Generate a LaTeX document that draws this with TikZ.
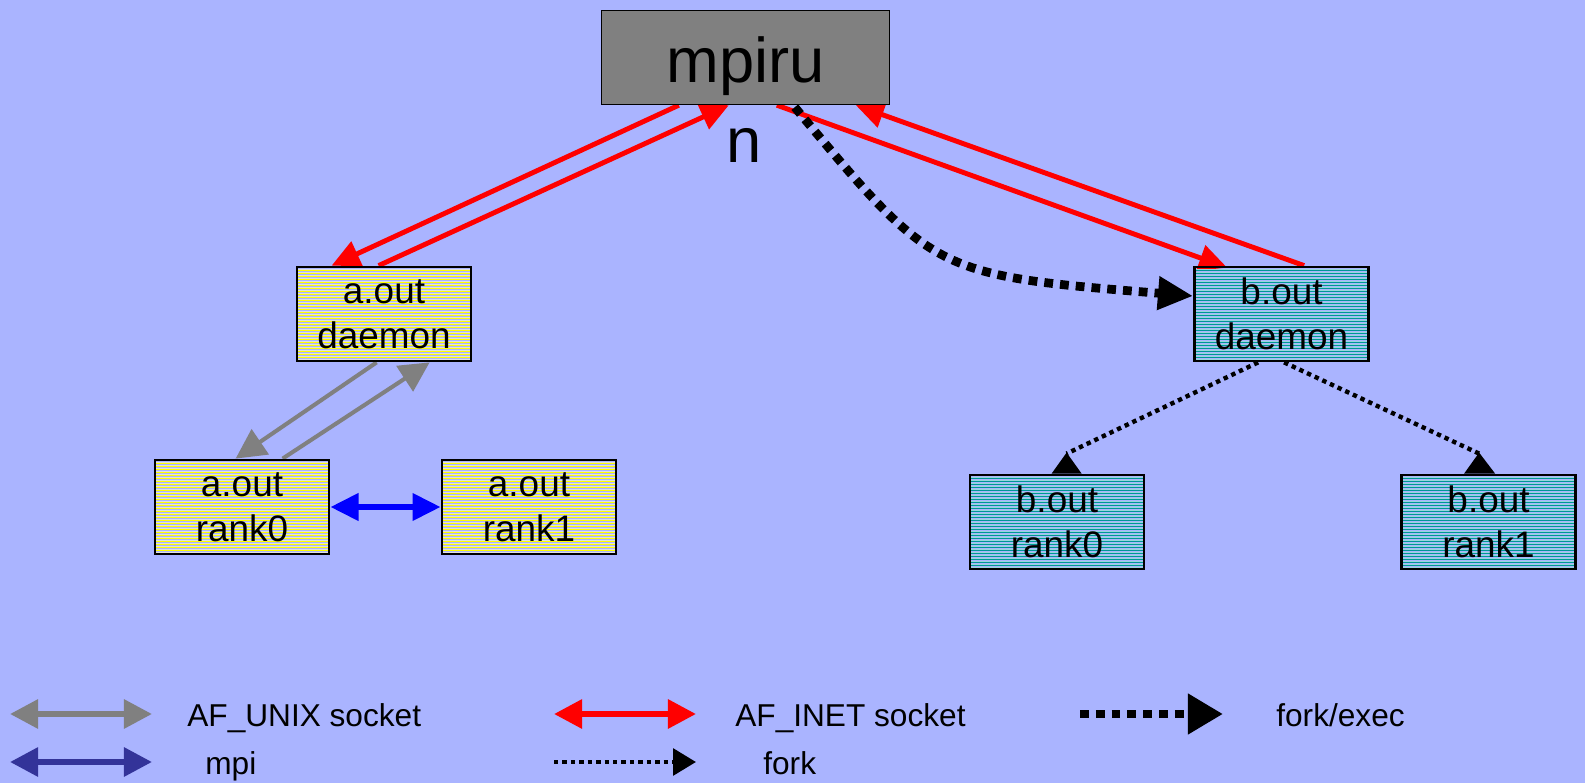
\documentclass[tikz,border=0pt]{standalone}
\usepackage{fontspec}
\setmainfont{Liberation Sans}
\usetikzlibrary{arrows.meta,calc}
\pgfdeclarelayer{back}
\pgfdeclarelayer{links}
\pgfsetlayers{back,links,main}

\definecolor{paper}{RGB}{170,180,255}
\definecolor{launcher}{RGB}{128,128,128}
\definecolor{inetred}{RGB}{255,0,0}
\definecolor{unixgray}{RGB}{128,128,128}
\definecolor{mpiblue}{RGB}{0,0,255}
\definecolor{mpinavy}{RGB}{51,51,153}
\definecolor{stripey}{RGB}{255,255,0}
\definecolor{stripeg}{RGB}{225,225,225}
\definecolor{stripet}{RGB}{0,150,150}
\definecolor{stripec}{RGB}{150,215,220}

\tikzset{
  procbox/.style={draw=black, line width=1.6pt, minimum width=3.48cm,
    minimum height=1.88cm, inner sep=0pt, align=center,
    font=\fontsize{21}{25.5}\selectfont},
  yellowfill/.style={path picture={
    \foreach \k in {0,...,32}{
      \fill[stripey] ($(path picture bounding box.north west)+(0,3*\k)$) rectangle ++(200,1);
      \fill[stripeg] ($(path picture bounding box.north west)+(0,3*\k+2)$) rectangle ++(200,1);
    }}},
  tealfill/.style={path picture={
    \foreach \k in {0,...,32}{
      \fill[stripet] ($(path picture bounding box.north west)+(0,3*\k)$) rectangle ++(200,1);
      \fill[stripec] ($(path picture bounding box.north west)+(0,3*\k+2)$) rectangle ++(200,1);
    }}},
  inet/.style={draw=inetred, line width=2.8pt, -{Triangle[length=16pt,width=15pt]}},
  unix/.style={draw=unixgray, line width=2.3pt, -{Triangle[length=17pt,width=17pt]}},
  mpilink/.style={draw=mpiblue, line width=3.4pt,
    {Triangle[length=16pt,width=15pt]}-{Triangle[length=16pt,width=15pt]}},
  forkexec/.style={draw=black, line width=5pt, dash pattern=on 5pt off 4pt,
    -{Triangle[length=20pt,width=18pt]}},
  forkline/.style={draw=black, line width=2.5pt, dash pattern=on 2.5pt off 2.3pt},
  legtext/.style={anchor=base west, font=\fontsize{18}{21}\selectfont, inner sep=0pt},
  legunix/.style={draw=unixgray, line width=3.4pt,
    {Triangle[length=16pt,width=16pt]}-{Triangle[length=16pt,width=16pt]}},
  leginet/.style={draw=inetred, line width=3.4pt,
    {Triangle[length=16pt,width=16pt]}-{Triangle[length=16pt,width=16pt]}},
  legmpi/.style={draw=mpinavy, line width=3.4pt,
    {Triangle[length=16pt,width=16pt]}-{Triangle[length=16pt,width=16pt]}},
  legforkexec/.style={draw=black, line width=5pt, dash pattern=on 5pt off 4pt,
    -{Triangle[length=20pt,width=22pt]}},
  legfork/.style={draw=black, line width=2.5pt, dash pattern=on 2.5pt off 2.3pt,
    -{Triangle[length=13pt,width=15pt]}},
}

\begin{document}
\begin{tikzpicture}[x=0.02cm, y=-0.02cm]
\useasboundingbox (0,0) rectangle (1585,783);
\begin{pgfonlayer}{back}
  \fill[paper] (0,0) rectangle (1585,783);
\end{pgfonlayer}

% launcher
\node[draw=black, line width=0.8pt, fill=launcher, minimum width=5.76cm,
  minimum height=1.88cm, inner sep=0pt, font=\fontsize{36}{40}\selectfont,
  text height=36pt, text depth=7pt] (mpiru) at (745.5,57.5) {mpiru};
\node[anchor=base, inner sep=0pt, font=\fontsize{36}{40}\selectfont] (ntail) at (744,163) {n};

% daemons and ranks
\node[procbox, yellowfill] (ad) at (384,314) {a.out\\daemon};
\node[procbox, tealfill] (bd) at (1281.5,314) {b.out\\daemon};
\node[procbox, yellowfill] (ar0) at (242,507) {a.out\\rank0};
\node[procbox, yellowfill] (ar1) at (529,507) {a.out\\rank1};
\node[procbox, tealfill] (br0) at (1057,522) {b.out\\rank0};
\node[procbox, tealfill] (br1) at (1488.5,522) {b.out\\rank1};

\coordinate (bend) at (934,275);

\begin{pgfonlayer}{links}
  % AF_INET sockets between the launcher and the daemons
  \draw[inet] ($(mpiru.south west)+(78,0)$) -- ($(ad.north west)+(36,0)$);
  \draw[inet] ($(ad.north west)+(83,0)$) -- ($(mpiru.south west)+(128,0)$);
  \draw[inet] ($(mpiru.south west)+(176,0)$) -- ($(bd.north west)+(34,2)$);
  \draw[inet] ($(bd.north west)+(111,0)$) -- ($(mpiru.south west)+(255,0)$);
  % AF_UNIX sockets between daemon and rank
  \draw[unix] ($(ad.south west)+(81,0)$) -- ($(ar0.north west)+(82,0)$);
  \draw[unix] ($(ar0.north west)+(129,0)$) -- ($(ad.south west)+(134,0)$);
  % mpi
  \draw[mpilink] (ar0.east) -- (ar1.west);
  % fork/exec of the remote daemon
  \draw[forkexec] ($(mpiru.south west)+(194,2)$) .. controls (bend) and (bend) .. ($(bd.west)+(0,-18)$);
  % forks of the ranks
  \draw[forkline] ($(bd.south west)+(65,0)$) -- ($(br0.north west)+(98,-20)$);
  \fill ($(br0.north west)+(98,-21)$) -- ($(br0.north west)+(83,0)$) -- ($(br0.north west)+(113,0)$) -- cycle;
  \draw[forkline] ($(bd.south west)+(91,0)$) -- ($(br1.north west)+(79,-20)$);
  \fill ($(br1.north west)+(79,-21)$) -- ($(br1.north west)+(64,0)$) -- ($(br1.north west)+(95,0)$) -- cycle;
\end{pgfonlayer}

% legend
\coordinate (k1a) at (10,714);   \coordinate (k1b) at (152,714);
\coordinate (k2a) at (554,714);  \coordinate (k2b) at (696,714);
\coordinate (k3a) at (1080,714); \coordinate (k3b) at (1223,714);
\coordinate (k4a) at (10,762);   \coordinate (k4b) at (152,762);
\coordinate (k5a) at (554,762);  \coordinate (k5b) at (696,762);
\draw[legunix] (k1a) -- (k1b);
\draw[leginet] (k2a) -- (k2b);
\draw[legforkexec] (k3a) -- (k3b);
\draw[legmpi] (k4a) -- (k4b);
\draw[legfork] (k5a) -- (k5b);
\node[legtext] (t1) at (187,726) {AF\_UNIX socket};
\node[legtext] (t2) at (735,726) {AF\_INET socket};
\node[legtext] (t3) at (1276,726) {fork/exec};
\node[legtext] (t4) at (205,774) {mpi};
\node[legtext] (t5) at (763,774) {fork};
\end{tikzpicture}
\end{document}
